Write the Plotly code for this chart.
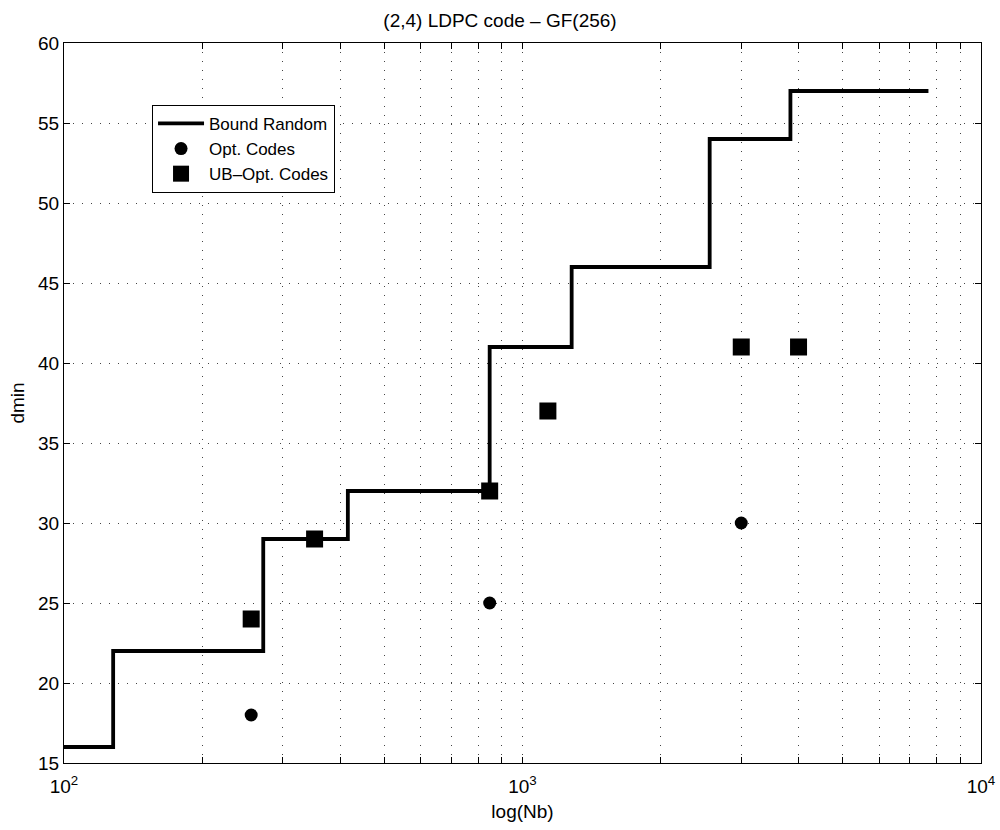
import plotly.graph_objects as go

# Bound Random step curve (stair points)
bound_nb = [100, 128, 272, 416, 848, 1280, 2560, 3840, 7680]
bound_dmin = [16, 22, 29, 32, 41, 46, 54, 57, 57]

# Opt. Codes
opt_nb = [256, 848, 3000]
opt_dmin = [18, 25, 30]

# UB-Opt. Codes
ub_nb = [256, 352, 848, 1136, 3000, 4000]
ub_dmin = [24, 29, 32, 37, 41, 41]

# x tick values (log axis, grid at every minor position)
x_tickvals = [100, 200, 300, 400, 500, 600, 700, 800, 900,
              1000, 2000, 3000, 4000, 5000, 6000, 7000, 8000, 9000, 10000]
x_ticktext = ["10<sup>2</sup>", "", "", "", "", "", "", "", "",
              "10<sup>3</sup>", "", "", "", "", "", "", "", "",
              "10<sup>4</sup>"]
y_tickvals = [15, 20, 25, 30, 35, 40, 45, 50, 55, 60]

FONT = "Liberation Sans, Arial, sans-serif"
FS = 19

fig = go.Figure()
fig.add_trace(go.Scatter(
    x=bound_nb, y=bound_dmin, mode="lines", line_shape="hv",
    line=dict(color="black", width=3.8), name="Bound Random"))
fig.add_trace(go.Scatter(
    x=opt_nb, y=opt_dmin, mode="markers",
    marker=dict(symbol="circle", size=13, color="black", line=dict(width=0)),
    name="Opt. Codes"))
fig.add_trace(go.Scatter(
    x=ub_nb, y=ub_dmin, mode="markers",
    marker=dict(symbol="square", size=17, color="black", line=dict(width=0)),
    name="UB\u2013Opt. Codes"))

axis_common = dict(
    showline=True, linecolor="black", linewidth=1, mirror="ticks",
    ticks="inside", ticklen=6, tickcolor="black", tickwidth=1,
    showgrid=True, gridcolor="#444444", gridwidth=1, griddash="1px,8px",
    zeroline=False, automargin=False,
    tickfont=dict(family=FONT, size=FS, color="black"),
)

fig.update_xaxes(
    type="log", range=[2, 4], tickmode="array",
    tickvals=x_tickvals, ticktext=x_ticktext, ticklabelstandoff=6,
    title=dict(text="log(Nb)", font=dict(family=FONT, size=FS, color="black"), standoff=8),
    **axis_common)
fig.update_yaxes(
    range=[15, 60], tickmode="array", tickvals=y_tickvals,
    title=dict(text="dmin", font=dict(family=FONT, size=FS, color="black"), standoff=8),
    **axis_common)

fig.update_layout(
    width=1000, height=830,
    margin=dict(l=64, r=19, t=43, b=67),
    paper_bgcolor="white", plot_bgcolor="white",
    title=dict(text="(2,4) LDPC code \u2013 GF(256)", x=0.5, xanchor="center",
               y=0.976, yanchor="middle",
               font=dict(family=FONT, size=FS, color="black")),
    legend=dict(x=0.096, y=0.914, xanchor="left", yanchor="top",
                bgcolor="white", bordercolor="black", borderwidth=1,
                font=dict(family=FONT, size=17, color="black"),
                itemwidth=46, tracegroupgap=0),
    showlegend=True,
)

fig.write_html("out.html", config={"displayModeBar": False},
               post_script="document.body.style.margin='0';")
